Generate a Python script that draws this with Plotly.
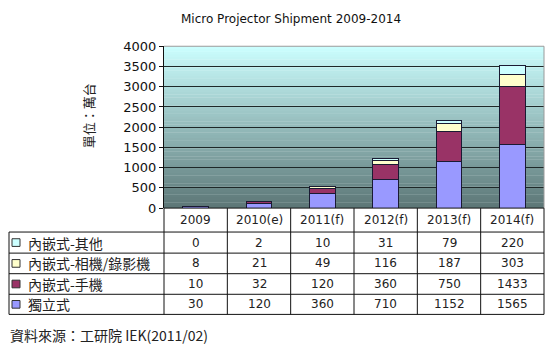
import plotly.graph_objects as go

# ---------------- data ----------------
years = ["2009", "2010(e)", "2011(f)", "2012(f)", "2013(f)", "2014(f)"]
standalone = [30, 120, 360, 710, 1152, 1565]      # 獨立式
phone = [10, 32, 120, 360, 750, 1433]             # 內嵌式-手機
camera = [8, 21, 49, 116, 187, 303]               # 內嵌式-相機/錄影機
other = [0, 2, 10, 31, 79, 220]                   # 內嵌式-其他

series_names = ["獨立式", "內嵌式-手機", "內嵌式-相機/錄影機", "內嵌式-其他"]
series_values = [standalone, phone, camera, other]
series_colors = ["#9999ff", "#993366", "#ffffcc", "#ccffff"]

title_text = "Micro Projector Shipment 2009-2014"
y_title = "單位：萬台"
source_text = "資料來源：工研院 IEK(2011/02)"

# ---------------- geometry helpers ----------------
W, H = 550, 354
def px(x):
    return x / W
def py(y):
    return 1 - y / H

PL, PR, PT, PB = 164, 544, 41, 210   # plot area in pixels
TL = 9                                # table left edge
header_bottom = 235
row_edges = [235, 257, 278.5, 300, 321]

fig = go.Figure()
for name, vals, col in zip(series_names, series_values, series_colors):
    fig.add_trace(go.Bar(
        x=years, y=vals, name=name,
        marker=dict(color=col, line=dict(color="#1a1a33", width=1)),
        width=0.41,
    ))

shapes = []
# gradient background of plot area
top_c = (204, 255, 255)
bot_c = (92, 118, 118)
N = 60
for i in range(N):
    t0 = i / N
    t1 = (i + 1) / N
    tm = (t0 + t1) / 2
    c = tuple(int(round(bot_c[k] + (top_c[k] - bot_c[k]) * tm)) for k in range(3))
    shapes.append(dict(type="rect", xref="paper", yref="paper",
                       x0=px(PL), x1=px(PR),
                       y0=py(PB) + (py(PT) - py(PB)) * t0,
                       y1=py(PB) + (py(PT) - py(PB)) * min(1, t1 + 0.002),
                       fillcolor="rgb(%d,%d,%d)" % c, line=dict(width=0),
                       layer="below"))
# plot border (gray) on top and right
shapes.append(dict(type="line", xref="paper", yref="paper", x0=px(PL), x1=px(PR),
                   y0=py(PT), y1=py(PT), line=dict(color="#9a9a9a", width=1), layer="above"))
shapes.append(dict(type="line", xref="paper", yref="paper", x0=px(PR), x1=px(PR),
                   y0=py(PT), y1=py(PB), line=dict(color="#9a9a9a", width=1), layer="above"))

# ---------------- table ----------------
line_style = dict(color="#111111", width=1)
shapes.append(dict(type="line", xref="paper", yref="paper",
                   x0=px(PL), x1=px(PR), y0=py(PB), y1=py(PB), line=line_style))
for yy in row_edges:
    shapes.append(dict(type="line", xref="paper", yref="paper",
                       x0=px(TL), x1=px(PR), y0=py(yy), y1=py(yy), line=line_style))
shapes.append(dict(type="line", xref="paper", yref="paper",
                   x0=px(TL), x1=px(TL), y0=py(header_bottom), y1=py(row_edges[-1]), line=line_style))
ncol = len(years)
for i in range(ncol + 1):
    xx = px(PL) + (px(PR) - px(PL)) * i / ncol
    shapes.append(dict(type="line", xref="paper", yref="paper",
                       x0=xx, x1=xx, y0=py(PB), y1=py(row_edges[-1]), line=line_style))

annotations = []
num_font = dict(family="DejaVu Sans", size=12, color="#222222")
for i, yr in enumerate(years):
    annotations.append(dict(x=i, xref="x", y=py((PB + header_bottom) / 2), yref="paper",
                            text=yr, showarrow=False, font=num_font,
                            xanchor="center", yanchor="middle"))
row_order = [3, 2, 1, 0]
for r, si in enumerate(row_order):
    yc = (row_edges[r] + row_edges[r + 1]) / 2
    shapes.append(dict(type="rect", xref="paper", yref="paper",
                       x0=px(12), x1=px(20), y0=py(yc + 4), y1=py(yc - 4),
                       fillcolor=series_colors[si], line=dict(color="#333333", width=1)))
    annotations.append(dict(x=px(26), xref="paper", y=py(yc), yref="paper",
                            text=series_names[si], showarrow=False,
                            font=dict(family="Noto Sans CJK TC", size=14, color="#222222"),
                            xanchor="left", yanchor="middle"))
    for i in range(ncol):
        annotations.append(dict(x=i, xref="x", y=py(yc), yref="paper",
                                text=str(series_values[si][i]), showarrow=False,
                                font=num_font, xanchor="center", yanchor="middle"))

annotations.append(dict(x=px(291), xref="paper", y=py(13), yref="paper", text=title_text,
                        showarrow=False, font=dict(family="DejaVu Sans", size=12, color="#111111"),
                        xanchor="center", yanchor="middle"))
annotations.append(dict(x=px(88), xref="paper", y=py(114), yref="paper", text=y_title,
                        textangle=-90, showarrow=False,
                        font=dict(family="Noto Sans CJK TC", size=13, color="#222222"),
                        xanchor="center", yanchor="middle"))
annotations.append(dict(x=px(8), xref="paper", y=py(342), yref="paper", text=source_text,
                        showarrow=False,
                        font=dict(family="Noto Sans CJK TC", size=14, color="#222222"),
                        xanchor="left", yanchor="middle"))

fig.update_layout(
    width=W, height=H,
    margin=dict(l=0, r=0, t=0, b=0),
    paper_bgcolor="white", plot_bgcolor="rgba(0,0,0,0)",
    barmode="stack", showlegend=False,
    shapes=shapes, annotations=annotations,
    xaxis=dict(type="category", categoryorder="array", categoryarray=years,
               domain=[px(PL), px(PR)], range=[-0.5, len(years) - 0.5],
               showticklabels=False, showgrid=False, zeroline=False, showline=False,
               ticks=""),
    yaxis=dict(domain=[py(PB), py(PT)], range=[0, 4000], dtick=500,
               showgrid=True, gridcolor="#1e2828", gridwidth=1,
               zeroline=False, showline=True, linecolor="#111111", linewidth=1,
               ticks="outside", ticklen=4, tickcolor="#111111",
               tickfont=dict(family="DejaVu Sans", size=13, color="#111111")),
)

fig.write_html("out.html")
